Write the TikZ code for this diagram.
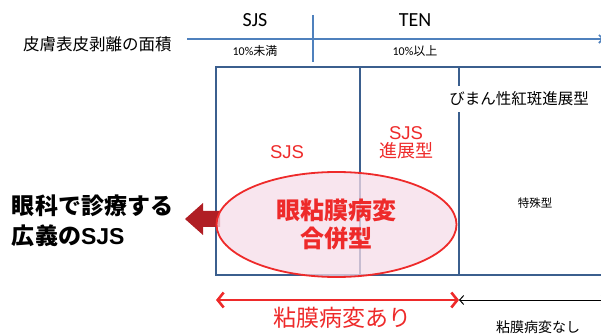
\documentclass[tikz,border=0pt]{standalone}
\usepackage{fontspec}
\setmainfont{Noto Sans CJK JP}
\newfontfamily\calfont{Carlito}
\newfontfamily\arialfont{Liberation Sans}
\usetikzlibrary{arrows.meta,shapes.geometric}
\definecolor{axisblue}{HTML}{4F81BD}
\definecolor{boxblue}{HTML}{3B5F8E}
\definecolor{rred}{HTML}{EE2A2A}
\definecolor{darkred}{HTML}{B01E24}
\definecolor{pinkfill}{HTML}{F6DCE8}
\begin{document}
\begin{tikzpicture}[x=1pt,y=-1pt,
  every node/.style={inner sep=0pt, outer sep=0pt},
  fs/.style={font=\fontsize{#1}{#1}\selectfont},
  boxline/.style={boxblue, line width=2.2pt},
  redtxt/.style={text=rred}]
\useasboundingbox (0,0) rectangle (601,336);
% top axis
\coordinate (ax0) at (187,39);
\coordinate (ax1) at (604,39);
\coordinate (tk0) at (313,15);
\coordinate (tk1) at (313,62);
\draw[axisblue, line width=1.6pt, -{Straight Barb[length=4pt,width=8pt]}] (ax0) -- (ax1);
\draw[axisblue, line width=1.6pt] (tk0) -- (tk1);
\node[fs=16.5, anchor=west] (area) at (23,44) {皮膚表皮剥離の面積};
\node[font=\calfont\fontsize{20}{20}\selectfont] (sjs) at (255,20) {SJS};
\node[font=\calfont\fontsize{20}{20}\selectfont] (ten) at (415,20) {TEN};
\node[fs=12] (lt) at (255,51) {{\calfont 10\%}未満};
\node[fs=12] (ge) at (415,51) {{\calfont 10\%}以上};
% box
\coordinate (bx0) at (216,67);
\coordinate (bx1) at (612,275);
\coordinate (v1a) at (360,67);
\coordinate (v1b) at (360,275);
\coordinate (v2a) at (459,67);
\coordinate (v2b) at (459,275);
\draw[boxline] (bx0) rectangle (bx1);
\draw[boxline] (v1a) -- (v1b);
\draw[boxline] (v2a) -- (v2b);
\node[fs=15.5, fill=white, inner ysep=6pt, inner xsep=1pt] (diff) at (519,99) {びまん性紅斑進展型};
\node[redtxt, font=\arialfont\fontsize{18.5}{18.5}\selectfont] (sjsr) at (287,152) {SJS};
\node[fs=18, redtxt, align=center] (sjsp) at (406,143) {{\arialfont\fontsize{18.5}{18.5}\selectfont SJS}\\[0pt]進展型};
\node[fs=11.5] (spec) at (535,203) {特殊型};
% big arrow
\fill[darkred] (185,219) -- (203,203) -- (203,211) -- (220,211) -- (220,227) -- (203,227) -- (203,235) -- cycle;
% ellipse
\node[ellipse, draw=rred, line width=1.8pt, fill=pinkfill, fill opacity=0.75, text opacity=1,
      minimum width=240pt, minimum height=105pt] (ell) at (336.5,224.5) {};
\node[redtxt, font=\bfseries\fontsize{24}{24}\selectfont, align=center] (ellt) at (ell.center) {眼粘膜病変\\[4pt]合併型};
% left text
\node[anchor=west, align=left, font=\bfseries\fontsize{23}{23}\selectfont] (eye) at (12,221) {眼科で診療する\\[7pt]広義の{\arialfont SJS}};
% bottom arrows
\coordinate (b0) at (216,300);
\coordinate (b1) at (459,300);
\coordinate (b2) at (606,300);
\draw[rred, line width=2.6pt, {Straight Barb[length=6pt,width=15pt]}-{Straight Barb[length=6pt,width=15pt]}] (b0) -- (b1);
\draw[black, line width=1pt, {Straight Barb[length=4pt,width=9pt]}-{Straight Barb[length=4pt,width=9pt]}] (b1) -- (b2);
\node[fs=23, redtxt] (ari) at (342,318) {粘膜病変あり};
\node[fs=14] (nashi) at (538,327) {粘膜病変なし};
\end{tikzpicture}
\end{document}
